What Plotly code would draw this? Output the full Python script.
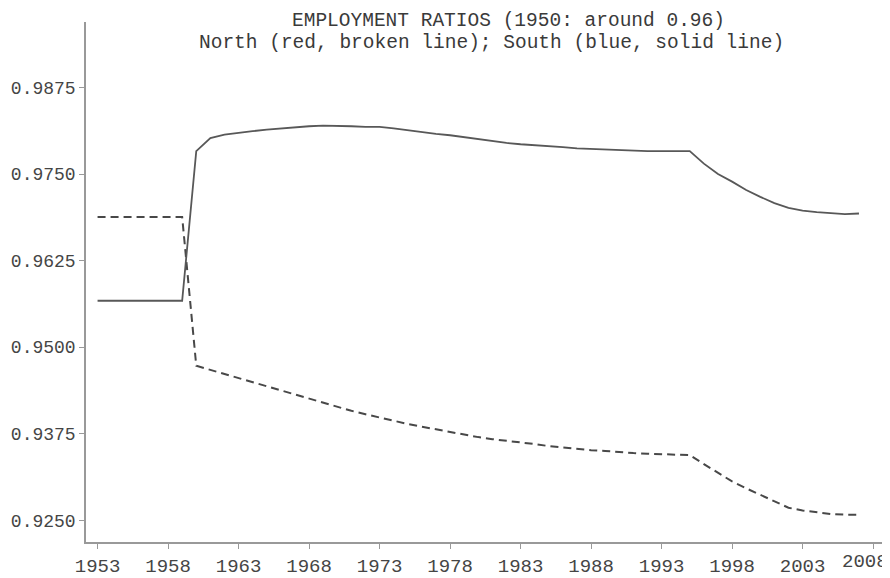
import plotly.graph_objects as go

years = list(range(1953, 2008))

north = [0.9688]*7 + [
    0.9473, 0.9467, 0.9461, 0.9455, 0.9449, 0.9444, 0.9438, 0.9432, 0.9426, 0.9420,
    0.9414, 0.9408, 0.9403, 0.9398, 0.9394, 0.9389, 0.9385, 0.9381, 0.9377, 0.9374,
    0.9370, 0.9367, 0.9365, 0.9363, 0.9360, 0.9357, 0.9355, 0.9352, 0.9351, 0.9350,
    0.9348, 0.9347, 0.9346, 0.9345, 0.9345, 0.9344, 0.9331, 0.9318, 0.9306, 0.9296,
    0.9287, 0.9277, 0.9268, 0.9264, 0.9261, 0.9259, 0.9258, 0.9258]

south = [0.9567]*7 + [
    0.9783, 0.9802, 0.9807, 0.9810, 0.9812, 0.9814, 0.9816, 0.9818, 0.9819, 0.9820,
    0.9820, 0.9819, 0.9818, 0.9818, 0.9816, 0.9813, 0.9810, 0.9808, 0.9806, 0.9803,
    0.9800, 0.9797, 0.9795, 0.9793, 0.9792, 0.9791, 0.9789, 0.9787, 0.9786, 0.9785,
    0.9784, 0.9784, 0.9783, 0.9783, 0.9783, 0.9783, 0.9765, 0.9750, 0.9739, 0.9727,
    0.9717, 0.9708, 0.9701, 0.9697, 0.9695, 0.9693, 0.9692, 0.9693]

x_ticks = list(range(1953, 2009, 5))
y_ticks = [0.9250, 0.9375, 0.9500, 0.9625, 0.9750, 0.9875]
y_tick_labels = ["0.9250", "0.9375", "0.9500", "0.9625", "0.9750", "0.9875"]

title_line1 = "EMPLOYMENT RATIOS (1950: around 0.96)"
title_line2 = "North (red, broken line); South (blue, solid line)"

FONT = "Liberation Mono"
TXT = "#454545"
AX = "#999999"

fig = go.Figure()
fig.add_trace(go.Scatter(x=years, y=north, mode="lines", name="North",
                         line=dict(color="#484848", width=2, dash="8px,5px")))
fig.add_trace(go.Scatter(x=years, y=south, mode="lines", name="South",
                         line=dict(color="#585858", width=1.8)))

# page body has an 8px margin: compensate so the plot lands where the reference has it
fig.update_layout(
    width=882, height=570,
    margin=dict(l=78, r=0, t=14, b=32),
    paper_bgcolor="white", plot_bgcolor="white",
    showlegend=False,
    font=dict(family=FONT, size=18, color=TXT),
)
fig.update_xaxes(range=[1952.18, 2009.2], tickmode="array", tickvals=x_ticks,
                 showgrid=False, zeroline=False, showline=True, linecolor=AX, linewidth=1.5,
                 ticks="outside", ticklen=5, tickcolor=AX,
                 tickfont=dict(family=FONT, size=19, color=TXT))
fig.update_yaxes(range=[0.92185, 0.99696], tickmode="array", tickvals=y_ticks,
                 ticktext=y_tick_labels,
                 showgrid=False, zeroline=False, showline=True, linecolor=AX, linewidth=1.5,
                 ticks="outside", ticklen=5, tickcolor=AX,
                 tickfont=dict(family=FONT, size=19 - 1, color=TXT))

# last tick label (plotly drops it at the edge): keep it fully inside the page
last_tick = x_ticks[-1]
fig.add_annotation(text=str(last_tick), xref="paper", yref="paper", x=1.0, y=-0.038,
                   xanchor="right", yanchor="middle", showarrow=False,
                   font=dict(family=FONT, size=19, color=TXT))

fig.add_annotation(text=title_line1, xref="paper", yref="paper", x=0.526, y=1.002,
                   xanchor="center", yanchor="middle", showarrow=False,
                   font=dict(family=FONT, size=19.5, color="#3a3a3a"))
fig.add_annotation(text=title_line2, xref="paper", yref="paper", x=0.504, y=0.96,
                   xanchor="center", yanchor="middle", showarrow=False,
                   font=dict(family=FONT, size=19.5, color="#3a3a3a"))

fig.write_html("out.html")
